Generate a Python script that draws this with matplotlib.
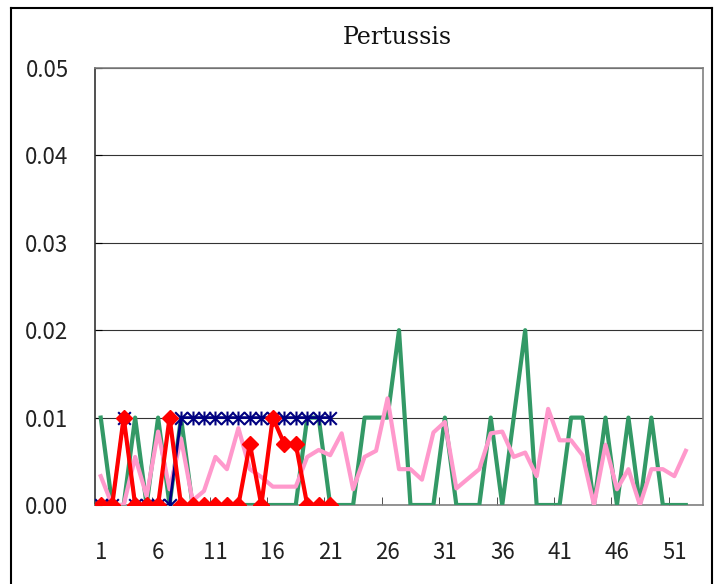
import matplotlib
matplotlib.use("Agg")
import matplotlib.pyplot as plt
from matplotlib.lines import Line2D
from matplotlib.path import Path
import numpy as np

title = "Pertussis"
x_tick_labels = ["1", "6", "11", "16", "21", "26", "31", "36", "41", "46", "51"]
y_ticks = [0.00, 0.01, 0.02, 0.03, 0.04, 0.05]

green_vals = [0.01, 0, 0, 0.01, 0, 0.01, 0, 0.01, 0, 0,
              0, 0, 0, 0, 0, 0, 0, 0, 0.01, 0.01,
              0, 0, 0, 0.01, 0.01, 0.01, 0.02, 0, 0, 0,
              0.01, 0, 0, 0, 0.01, 0, 0.01, 0.02, 0, 0,
              0, 0.01, 0.01, 0, 0.01, 0, 0.01, 0, 0.01, 0,
              0, 0]
pink_vals = [0.0033, 0, 0, 0.0055, 0.001, 0.0084, 0.0018, 0.0076, 0.0005, 0.0016,
             0.0055, 0.0041, 0.0088, 0.0041, 0.0032, 0.0021, 0.0021, 0.0021, 0.0055, 0.0063,
             0.0057, 0.0082, 0.0018, 0.0055, 0.0062, 0.0122, 0.0041, 0.0041, 0.0029, 0.0083,
             0.0095, 0.0019, 0.003, 0.0041, 0.0082, 0.0084, 0.0055, 0.006, 0.0033, 0.011,
             0.0074, 0.0074, 0.0057, 0, 0.0069, 0.0018, 0.0041, 0, 0.0041, 0.0041,
             0.0033, 0.0062]
blue_vals = [0, 0, 0.01, 0, 0, 0, 0, 0.01, 0.01, 0.01,
             0.01, 0.01, 0.01, 0.01, 0.01, 0.01, 0.01, 0.01, 0.01, 0.01,
             0.01]
red_vals = [0, 0, 0.01, 0, 0, 0, 0.01, 0, 0, 0,
            0, 0, 0, 0.007, 0, 0.01, 0.007, 0.007, 0, 0,
            0]

# Excel-style star marker: an X with a vertical bar
star = Path([(-1, -1), (1, 1), (-1, 1), (1, -1), (0, -1.1), (0, 1.1)],
            [Path.MOVETO, Path.LINETO, Path.MOVETO, Path.LINETO,
             Path.MOVETO, Path.LINETO])

W, H = 720, 584
fig = plt.figure(figsize=(W / 100, H / 100), dpi=100)
ax = fig.add_axes([95 / W, 1 - 505 / H, (703 - 95) / W, (505 - 68) / H])

wk_g = np.arange(1, len(green_vals) + 1)
wk_p = np.arange(1, len(pink_vals) + 1)
wk_b = np.arange(1, len(blue_vals) + 1)
wk_r = np.arange(1, len(red_vals) + 1)

ax.plot(wk_g, green_vals, color="#339966", lw=3.0, zorder=3)
ax.plot(wk_p, pink_vals, color="#FF99CC", lw=3.0, zorder=4)
ax.plot(wk_b, blue_vals, color="#000080", lw=2.0, zorder=5)
ax.plot(wk_r, red_vals, color="#FF0000", lw=3.0, zorder=6,
        marker="D", markersize=8.3, markerfacecolor="#FF0000",
        markeredgecolor="#FF0000")
ax.plot(wk_b, blue_vals, linestyle="none", zorder=5.5,
        marker=star, markersize=10, markeredgewidth=1.5,
        markeredgecolor="#000080", markerfacecolor="none")

ax.set_xlim(0.5, 53.5)
ax.set_ylim(0, 0.05)

ax.set_yticks(y_ticks)
ax.set_yticklabels([f"{v:.2f}" for v in y_ticks])
ax.yaxis.grid(True, color="#333333", lw=0.8)
ax.set_axisbelow(True)

label_pos = [int(s) for s in x_tick_labels]
ax.set_xticks(label_pos)
ax.set_xticklabels(x_tick_labels)
ax.set_xticks([p + 4.5 for p in label_pos if p + 4.5 < 53.5], minor=True)
ax.tick_params(axis="x", which="major", length=0, pad=26, labelsize=16)
ax.tick_params(axis="x", which="minor", length=6, direction="in", color="#333333")
ax.tick_params(axis="y", which="major", length=5, direction="in", pad=19, labelsize=16)

for lab in ax.get_xticklabels() + ax.get_yticklabels():
    lab.set_fontfamily(["Noto Sans CJK JP", "DejaVu Sans"])
    lab.set_color("#222222")

ax.spines["left"].set_color("#333333")
ax.spines["bottom"].set_color("#808080")
ax.spines["top"].set_color("#808080")
ax.spines["right"].set_color("#808080")
for s in ax.spines.values():
    s.set_linewidth(1.2)

fig.text(397 / W, 1 - 38 / H, title, ha="center", va="center",
         fontsize=17, family="DejaVu Serif", color="#111111")

# outer chart frame
lw = 1.5
fig.add_artist(Line2D([11 / W, 11 / W], [0, 1 - 8 / H], color="black", lw=lw))
fig.add_artist(Line2D([711.5 / W, 711.5 / W], [0, 1 - 8 / H], color="black", lw=lw))
fig.add_artist(Line2D([11 / W, 711.5 / W], [1 - 8 / H, 1 - 8 / H], color="black", lw=lw))

fig.savefig("out.png", dpi=100)
